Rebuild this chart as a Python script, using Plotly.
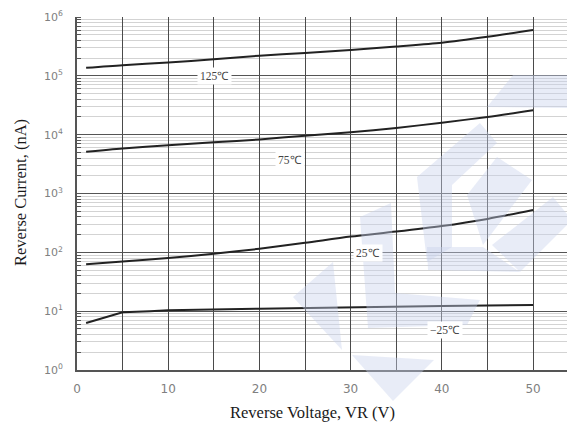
import math
import plotly.graph_objects as go

voltage = [1, 5, 10, 15, 20, 25, 30, 35, 40, 45, 50]
i_125 = [1.37e5, 1.52e5, 1.68e5, 1.92e5, 2.2e5, 2.45e5, 2.75e5, 3.15e5, 3.65e5, 4.6e5, 6.0e5]
i_75 = [5.1e3, 5.8e3, 6.6e3, 7.4e3, 8.3e3, 9.6e3, 1.1e4, 1.3e4, 1.6e4, 2.0e4, 2.6e4]
i_25 = [63, 70, 80, 95, 115, 145, 185, 225, 280, 370, 525]
v_m25 = [1, 5, 8, 10, 20, 30, 40, 50]
i_m25 = [6.3, 9.6, 10.0, 10.4, 11.0, 11.8, 12.3, 12.7]

labels = ["125℃", "75℃", "25℃", "−25℃"]
label_x = [15.1, 23.4, 31.9, 40.3]
label_y = [1.0e5, 3.7e3, 98, 4.8]

tick_vals = [1, 10, 100, 1000, 1e4, 1e5, 1e6]
tick_text = ["10<sup>0</sup>", "10<sup>1</sup>", "10<sup>2</sup>", "10<sup>3</sup>",
             "10<sup>4</sup>", "10<sup>5</sup>", "10<sup>6</sup>"]
x_ticks = [0, 5, 10, 15, 20, 25, 30, 35, 40, 45, 50]
x_text = ["0", "", "10", "", "20", "", "30", "", "40", "", "50"]

fig = go.Figure()

# light watermark polygons (page pixel coords, converted to paper)
L, R, T, B = 77, 575, 17, 370
def px2paper(px, py):
    return (px - L) / (R - L), (B - py) / (B - T)

def poly(pts):
    s = ""
    for i, (px, py) in enumerate(pts):
        xp, yp = px2paper(px, py)
        s += ("M " if i == 0 else " L ") + f"{xp:.4f} {yp:.4f}"
    return s + " Z"

wm_polys = [
    [(293, 297), (333, 262), (342, 350)],
    [(352, 355), (434, 360), (393, 401)],
    [(360, 217), (391, 203), (395, 293), (480, 300), (467, 325), (368, 328)],
    [(417, 177), (480, 123), (497, 143), (452, 185), (452, 247), (427, 262)],
    [(497, 157), (532, 180), (483, 245), (467, 195)],
    [(427, 247), (483, 247), (520, 272), (428, 270)],
    [(553, 197), (572, 220), (520, 272), (492, 245)],
    [(487, 107), (513, 75), (575, 75), (575, 108)],
]
for p in wm_polys:
    fig.add_shape(type="path", xref="paper", yref="paper", path=poly(p),
                  fillcolor="rgba(200,210,235,0.42)", line_width=0, layer="above")

line = dict(color="#222222", width=2, shape="spline", smoothing=0.8)
fig.add_trace(go.Scatter(x=voltage, y=i_125, mode="lines", line=line, showlegend=False))
fig.add_trace(go.Scatter(x=voltage, y=i_75, mode="lines", line=line, showlegend=False))
fig.add_trace(go.Scatter(x=voltage, y=i_25, mode="lines", line=line, showlegend=False))
fig.add_trace(go.Scatter(x=v_m25, y=i_m25, mode="lines",
                         line=dict(color="#222222", width=2), showlegend=False))

for t, lx, ly in zip(labels, label_x, label_y):
    fig.add_annotation(x=lx, y=math.log10(ly), text=t, showarrow=False,
                       font=dict(family="Liberation Serif", size=11.5, color="#444"),
                       bgcolor="white", borderpad=2)

# axis titles placed as annotations
xt = px2paper(312, 412)
fig.add_annotation(x=xt[0], y=xt[1], xref="paper", yref="paper", showarrow=False,
                   xanchor="center", yanchor="middle",
                   text="Reverse Voltage, VR (V)",
                   font=dict(family="Liberation Serif", size=16.5, color="#1a1a1a"))
yt = px2paper(20, 193)
fig.add_annotation(x=yt[0], y=yt[1], xref="paper", yref="paper", showarrow=False,
                   xanchor="center", yanchor="middle",
                   text="Reverse Current, (nA)", textangle=-90,
                   font=dict(family="Liberation Serif", size=16.5, color="#1a1a1a"))

fig.update_layout(
    width=575, height=433,
    margin=dict(l=69, r=8, t=9, b=71),
    paper_bgcolor="white", plot_bgcolor="white",
    xaxis=dict(range=[0, 54.6], tickvals=x_ticks, ticktext=x_text, automargin=False,
               showgrid=True, gridcolor="#4a4a4a", gridwidth=1.3, zeroline=False,
               showline=True, linecolor="#555", linewidth=1.5, ticks="",
               ticklabelstandoff=7,
               tickfont=dict(family="DejaVu Sans", size=12, color="#808080")),
    yaxis=dict(type="log", range=[0, 6], tickvals=tick_vals, ticktext=tick_text,
               automargin=False,
               showgrid=True, gridcolor="#555", gridwidth=1.4, zeroline=False,
               showline=True, linecolor="#555", linewidth=2,
               ticks="", ticklabelstandoff=10,
               tickfont=dict(family="DejaVu Sans", size=11, color="#808080"),
               minor=dict(dtick="D1", showgrid=True, gridcolor="#d3d3d3", gridwidth=1,
                          ticks="inside", ticklen=4, tickcolor="#555")),
)

fig.write_html("out.html")
